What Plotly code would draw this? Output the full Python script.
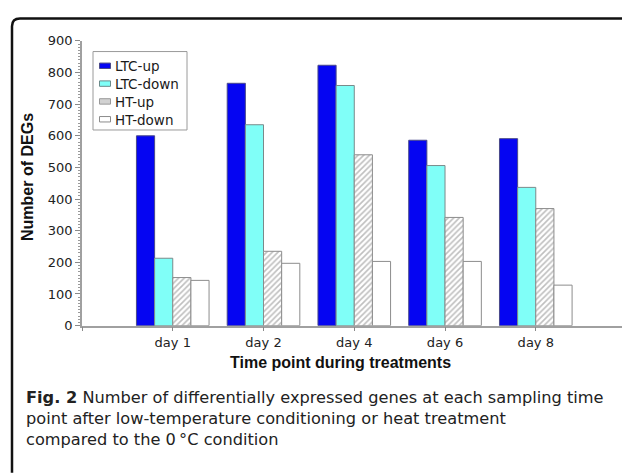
import plotly.graph_objects as go

# ---------------- data ----------------
days = ["day 1", "day 2", "day 4", "day 6", "day 8"]
series_names = ["LTC-up", "LTC-down", "HT-up", "HT-down"]
ltc_up = [600, 766, 823, 586, 591]
ltc_down = [213, 635, 759, 506, 437]
ht_up = [152, 235, 540, 342, 370]
ht_down = [143, 197, 203, 203, 128]
y_tick_values = [0, 100, 200, 300, 400, 500, 600, 700, 800, 900]
x_title = "Time point during treatments"
y_title = "Number of DEGs"
caption_bold = "Fig. 2"
caption_lines = [
    "Number of differentially expressed genes at each sampling time",
    "point after low-temperature conditioning or heat treatment",
    "compared to the 0\u2009\u00b0C condition",
]

# ---------------- layout helpers ----------------
W, H = 622, 476


def px(x):
    return x / W


def py(y):
    return 1 - y / H


series_values = [ltc_up, ltc_down, ht_up, ht_down]
styles = [
    dict(color="#0505F2", line=dict(color="#4a4a8a", width=1)),
    dict(color="#80FFF8", line=dict(color="#7a8a8a", width=1)),
    dict(color="white", pattern=dict(shape="/", fgcolor="#808080", bgcolor="white",
                                     size=4, solidity=0.4),
         line=dict(color="#8c8c8c", width=1)),
    dict(color="white", line=dict(color="#8c8c8c", width=1)),
]
swatch_fill = ["#0505F2", "#80FFF8", "#d2d2d2", "white"]
swatch_line = ["#4a4a8a", "#6a8a8a", "#999999", "#8c8c8c"]

xpos = list(range(len(days)))

fig = go.Figure()
for name, vals, st in zip(series_names, series_values, styles):
    fig.add_trace(go.Bar(x=xpos, y=vals, name=name, marker=st, showlegend=False))

shapes = []
annotations = []

# rounded frame
x0, y0, r = 12, 12, 8
frame_path = (
    f"M {px(x0)},{py(H + 5)} L {px(x0)},{py(y0 + r)} "
    f"Q {px(x0)},{py(y0)} {px(x0 + r)},{py(y0)} L {px(W + 5)},{py(y0)}"
)
shapes.append(dict(type="path", xref="paper", yref="paper", path=frame_path,
                   line=dict(color="#111111", width=2.5)))

# manual legend
shapes.append(dict(type="rect", xref="paper", yref="paper",
                   x0=px(93), x1=px(187), y0=py(46), y1=py(127),
                   line=dict(color="#9a9a9a", width=1), fillcolor="white"))
item_y0, item_dy = 60.7, 18.4
for i, name in enumerate(series_names):
    cy = item_y0 + i * item_dy
    shapes.append(dict(type="rect", xref="paper", yref="paper",
                       x0=px(99.5), x1=px(110.5), y0=py(cy - 2.8), y1=py(cy + 2.8),
                       fillcolor=swatch_fill[i], line=dict(color=swatch_line[i], width=1)))
    annotations.append(dict(text=name, xref="paper", yref="paper", x=px(112.5), y=py(cy + 0.5),
                            xanchor="left", yanchor="middle", showarrow=False,
                            font=dict(family="DejaVu Sans", size=13.5, color="#1a1a1a")))

# axis titles
annotations.append(dict(text=f"<b>{x_title}</b>", xref="paper", yref="paper",
                        x=px(340), y=py(367), xanchor="center", yanchor="middle",
                        showarrow=False,
                        font=dict(family="Liberation Sans", size=16, color="#111111")))
annotations.append(dict(text=f"<b>{y_title}</b>", xref="paper", yref="paper",
                        x=px(28), y=py(175.5), xanchor="center", yanchor="middle",
                        textangle=-90, showarrow=False,
                        font=dict(family="Liberation Sans", size=16, color="#111111")))

# caption
caption = f"<b>{caption_bold}</b> " + "<br>".join(caption_lines)
annotations.append(dict(text=caption, xref="paper", yref="paper",
                        x=px(24), y=py(391), xanchor="left", yanchor="top",
                        align="left", showarrow=False,
                        font=dict(family="DejaVu Sans", size=16.2, color="#222222")))

fig.update_layout(
    width=W, height=H, autosize=False,
    margin=dict(l=0, r=0, t=0, b=0, pad=0),
    paper_bgcolor="white", plot_bgcolor="white",
    barmode="group", bargap=0.2, bargroupgap=0,
    showlegend=False,
    shapes=shapes, annotations=annotations,
    xaxis=dict(
        domain=[px(82), 1], range=[-1, 4.95],
        tickvals=[-1] + xpos, ticktext=[""] + days,
        ticks="outside", ticklen=4, tickcolor="#8a8a8a", tickwidth=1,
        showline=True, linecolor="#a0a0a0", linewidth=1.5,
        showgrid=False, zeroline=False, fixedrange=True,
        tickfont=dict(family="DejaVu Sans", size=13, color="#222222"),
    ),
    yaxis=dict(
        domain=[py(329), py(35)], range=[0, 900],
        tickvals=y_tick_values,
        ticks="outside", ticklen=5, tickcolor="#8a8a8a", tickwidth=1,
        minor=dict(dtick=10, ticks="outside", ticklen=2.5, tickcolor="#9a9a9a", tickwidth=1),
        showline=True, linecolor="#a0a0a0", linewidth=1.5,
        showgrid=False, zeroline=False, fixedrange=True,
        tickfont=dict(family="DejaVu Sans", size=13, color="#222222"),
    ),
)

fig.write_html("out.html")
